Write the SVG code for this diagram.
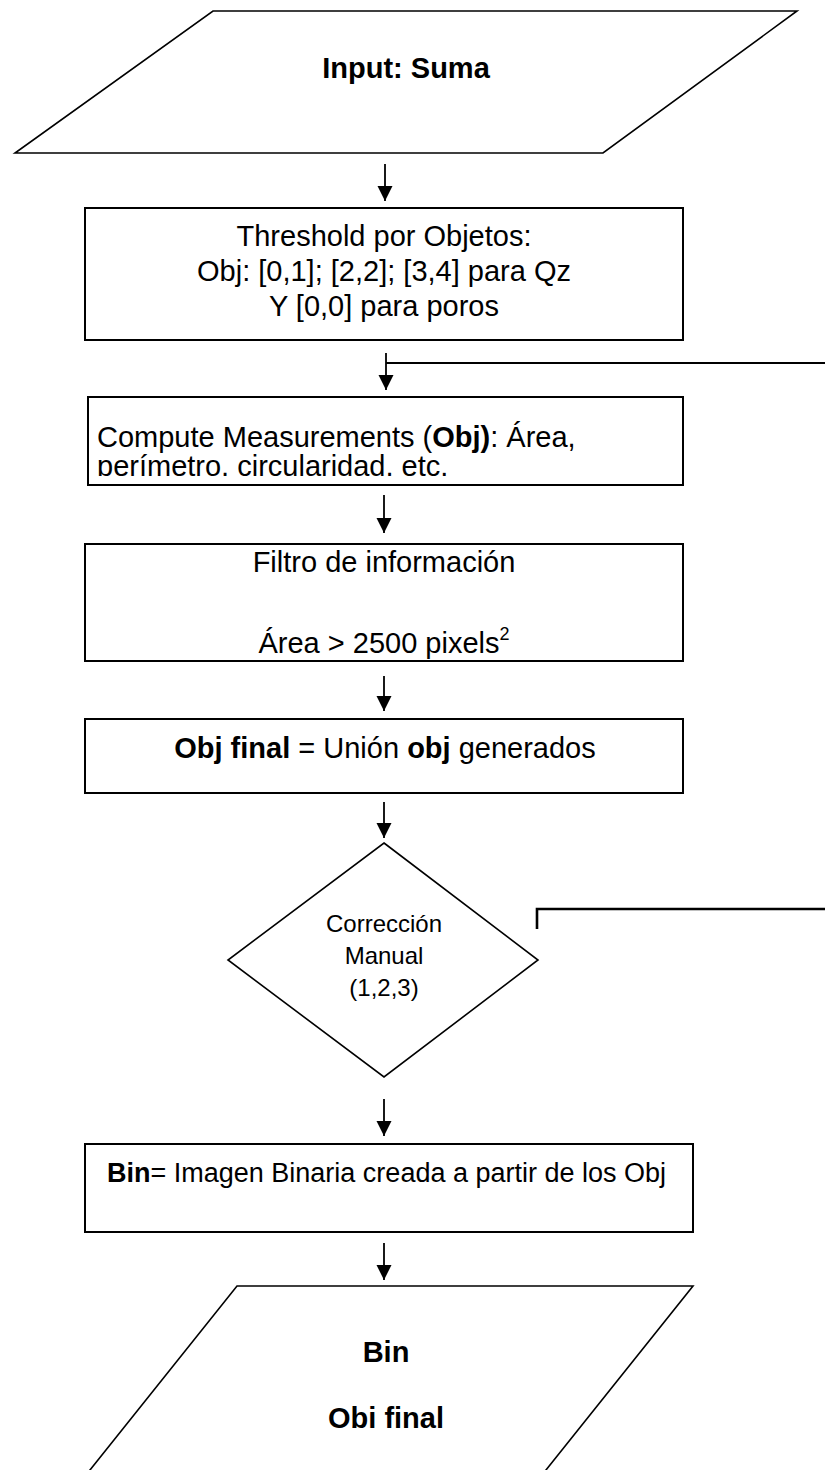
<svg xmlns="http://www.w3.org/2000/svg" width="825" height="1470" viewBox="0 0 825 1470">
<style>
.shape{fill:#fff;stroke:#000;stroke-width:2}
.para{fill:#fff;stroke:#000;stroke-width:1.6}
.t{font-family:"Liberation Sans",Arial,sans-serif;font-size:29px;fill:#000}
.c{text-anchor:middle}
.b{font-weight:bold}
.d{font-size:24px}
.s{font-size:27px}
.conn{stroke:#000;stroke-width:1.8;fill:none}
.thick{stroke:#000;stroke-width:2.6;fill:none}
</style>
<defs>
<marker id="ah" markerUnits="userSpaceOnUse" markerWidth="16" markerHeight="16" refX="15" refY="7.5" orient="auto">
<path d="M0,0 L15,7.5 L0,15 z" fill="#000"/>
</marker>
<clipPath id="clipCompute"><rect x="0" y="0" width="825" height="476"/></clipPath>
<clipPath id="clipObj"><rect x="0" y="0" width="825" height="1428"/></clipPath>
</defs>

<g id="input">
<polygon class="para" points="213,11 797,11 603,153 15,153"/>
<text class="t c b" x="406" y="78">Input: Suma</text>
</g>

<g id="threshold">
<rect class="shape" x="85" y="208" width="598" height="132"/>
<text class="t c" x="384" y="246">Threshold por Objetos:</text>
<text class="t c" x="384" y="281">Obj: [0,1]; [2,2]; [3,4] para Qz</text>
<text class="t c" x="384" y="316">Y [0,0] para poros</text>
</g>

<g id="compute">
<rect class="shape" x="88" y="397" width="595" height="88"/>
<text class="t" x="97" y="447">Compute Measurements (<tspan class="b">Obj)</tspan>: Área,</text>
<text class="t" x="97" y="476" clip-path="url(#clipCompute)">perímetro, circularidad, etc.</text>
</g>

<g id="filtro">
<rect class="shape" x="85" y="544" width="598" height="117"/>
<text class="t c" x="384" y="572">Filtro de información</text>
<text class="t c" x="384" y="653">Área &gt; 2500 pixels<tspan font-size="18" dy="-13">2</tspan></text>
</g>

<g id="union">
<rect class="shape" x="85" y="719" width="598" height="74"/>
<text class="t c" x="385" y="758"><tspan class="b">Obj final</tspan> = Unión <tspan class="b">obj</tspan> generados</text>
</g>

<g id="correccion">
<polygon class="para" points="384,843 538,960 384,1077 228,960"/>
<text class="t c d" x="384" y="932">Corrección</text>
<text class="t c d" x="384" y="964">Manual</text>
<text class="t c d" x="384" y="996">(1,2,3)</text>
</g>

<g id="bin">
<rect class="shape" x="85" y="1144" width="608" height="88"/>
<text class="t s" x="107" y="1182"><tspan class="b">Bin</tspan>= Imagen Binaria creada a partir de los Obj</text>
</g>

<g id="output">
<polygon class="para" points="237,1286 693,1286 530,1490 74,1490"/>
<text class="t c b" x="386" y="1362">Bin</text>
<text class="t c b" x="386" y="1428" clip-path="url(#clipObj)">Obj final</text>
</g>

<g id="connectors">
<line class="conn" x1="385" y1="164" x2="385" y2="201" marker-end="url(#ah)"/>
<line class="conn" x1="386" y1="353" x2="386" y2="390" marker-end="url(#ah)"/>
<line class="conn" x1="386" y1="363" x2="825" y2="363"/>
<line class="conn" x1="384" y1="495" x2="384" y2="533" marker-end="url(#ah)"/>
<line class="conn" x1="384" y1="676" x2="384" y2="711" marker-end="url(#ah)"/>
<line class="conn" x1="384" y1="802" x2="384" y2="838" marker-end="url(#ah)"/>
<polyline class="thick" points="537,929 537,909 825,909"/>
<line class="conn" x1="384" y1="1099" x2="384" y2="1136" marker-end="url(#ah)"/>
<line class="conn" x1="384" y1="1243" x2="384" y2="1280" marker-end="url(#ah)"/>
</g>
</svg>
